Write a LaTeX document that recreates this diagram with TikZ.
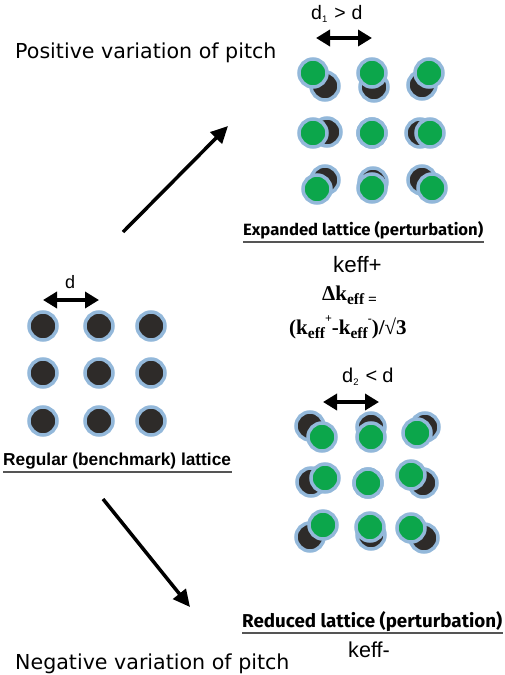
\documentclass[tikz,border=0pt]{standalone}
\usepackage{fontspec}
\setmainfont{Liberation Sans}
\newfontfamily\dejavu{DejaVu Sans}
\newfontfamily\labfont{Fira Sans}
\newfontfamily\timesfont{Liberation Serif}
\usetikzlibrary{arrows.meta}
\definecolor{ringblue}{HTML}{93B8DA}
\definecolor{fueldark}{HTML}{2E2B29}
\definecolor{pertgreen}{HTML}{0CA64B}
\definecolor{ulgray}{HTML}{555555}
\begin{document}
\begin{tikzpicture}[x=1pt,y=-1pt,
  pin/.style={circle,minimum size=28pt,inner sep=0pt,draw=ringblue,line width=3.5pt,fill=#1},
  pin/.default=fueldark,
  bigarrow/.style={line width=3.5pt,-{Triangle[length=17pt,width=16pt]}},
  pitcharrow/.style={{Triangle[length=14pt,width=16pt]}-{Triangle[length=14pt,width=16pt]},line width=3.5pt},
  txt/.style={inner sep=0pt,anchor=base west},
  uline/.style={draw=ulgray,line width=1.5pt}]
\useasboundingbox (0,0) rectangle (505,675);

% titles
\node[txt,font=\dejavu\fontsize{20.6}{24}\selectfont] (pos) at (15,58) {Positive variation of pitch};
\node[txt,font=\dejavu\fontsize{20.6}{24}\selectfont] (neg) at (15,669) {Negative variation of pitch};

% regular lattice
\foreach \x/\c in {43/1,99/2,151/3}
  \foreach \y/\r in {326/1,373/2,421/3}
    \node[pin] (reg\r\c) at (\x,\y) {};
\coordinate (dl) at (43,300);
\coordinate (dr) at (99,300);
\draw[pitcharrow] (dl) -- (dr);
\node[txt,font=\fontsize{18}{20}\selectfont] (dlab) at (65,288) {d};
\node[txt,font=\bfseries\fontsize{17.3}{20}\selectfont] (reglab) at (3,465) {Regular (benchmark) lattice};
\coordinate (regulA) at (3,472);
\coordinate (regulB) at (232,472);
\draw[uline] (regulA) -- (regulB);

% expanded lattice
\foreach \n/\gx/\gy/\dx/\dy in {a/313/73/325/86, b/372/73/374/87, c/429/73/422/85,
    d/313/133/327/132, e/372/133/372/133, f/430/133/420/133,
    g/317/189/325/180, h/372/188/373/182, i/432/188/422/180}
  \node[pin] (exd\n) at (\dx,\dy) {};
\foreach \n/\gx/\gy/\dx/\dy in {a/313/73/325/86, b/372/73/374/87, c/429/73/422/85,
    d/313/133/327/132, e/372/133/372/133, f/430/133/420/133,
    g/317/189/325/180, h/372/188/373/182, i/432/188/422/180}
  \node[pin=pertgreen] (exg\n) at (\gx,\gy) {};
\coordinate (d1l) at (316,38);
\coordinate (d1r) at (372,38);
\draw[pitcharrow] (d1l) -- (d1r);
\node[txt,font=\fontsize{19.5}{22}\selectfont] (d1lab) at (311,19) {d\raisebox{-3pt}{\fontsize{9.5}{9.5}\selectfont 1}\hspace{7pt}>\hspace{6pt}d};
\node[txt,font=\labfont\bfseries] (explab) at (243,235) {\resizebox{240pt}{14pt}{Expanded lattice (perturbation)}};
\coordinate (expulA) at (243,242);
\coordinate (expulB) at (484,242);
\draw[uline] (expulA) -- (expulB);

% keff texts
\node[txt,font=\fontsize{22.3}{26}\selectfont] (kplus) at (333,272) {keff+};
\node[txt,font=\timesfont\bfseries\fontsize{21}{22}\selectfont] (form1) at (322,300)
  {Δk\raisebox{-4pt}{\fontsize{15.5}{15}\selectfont eff =}};
\node[txt,font=\timesfont\bfseries\fontsize{21}{22}\selectfont] (form2) at (289,334)
  {(k\raisebox{-4pt}{\fontsize{15.5}{15}\selectfont eff}\raisebox{12pt}{\fontsize{12}{12}\selectfont +}-k\raisebox{-4pt}{\fontsize{15.5}{15}\selectfont eff}\raisebox{12pt}{\fontsize{12}{12}\selectfont -})/√3};

% reduced lattice
\foreach \n/\gx/\gy/\dx/\dy in {a/322/437/310/426, b/371/437/371/427, c/417/433/425/427,
    d/325/478/311/482, e/368/483/368/483, f/411/475/423/483,
    g/323/525/310/537, h/370/527/371/535, i/411/528/424/538}
  \node[pin] (rdd\n) at (\dx,\dy) {};
\foreach \n/\gx/\gy/\dx/\dy in {a/322/437/310/426, b/371/437/371/427, c/417/433/425/427,
    d/325/478/311/482, e/368/483/368/483, f/411/475/423/483,
    g/323/525/310/537, h/370/527/371/535, i/411/528/424/538}
  \node[pin=pertgreen] (rdg\n) at (\gx,\gy) {};
\coordinate (d2l) at (323,402);
\coordinate (d2r) at (379,402);
\draw[pitcharrow] (d2l) -- (d2r);
\node[txt,font=\fontsize{20}{22}\selectfont] (d2lab) at (342,382) {d\raisebox{-3pt}{\fontsize{9.5}{9.5}\selectfont 2}\hspace{7pt}<\hspace{5pt}d};
\node[txt,font=\labfont\bfseries] (redlab) at (242,627) {\resizebox{260pt}{16pt}{Reduced lattice (perturbation)}};
\coordinate (redulA) at (242,633);
\coordinate (redulB) at (503,633);
\draw[uline] (redulA) -- (redulB);
\node[txt,font=\fontsize{21.6}{24}\selectfont] (kminus) at (348,657) {keff-};

% variation arrows
\coordinate (upS) at (123,232);
\coordinate (upE) at (228,126);
\draw[bigarrow] (upS) -- (upE);
\coordinate (dnS) at (103,499);
\coordinate (dnE) at (190,607);
\draw[bigarrow] (dnS) -- (dnE);
\end{tikzpicture}
\end{document}
